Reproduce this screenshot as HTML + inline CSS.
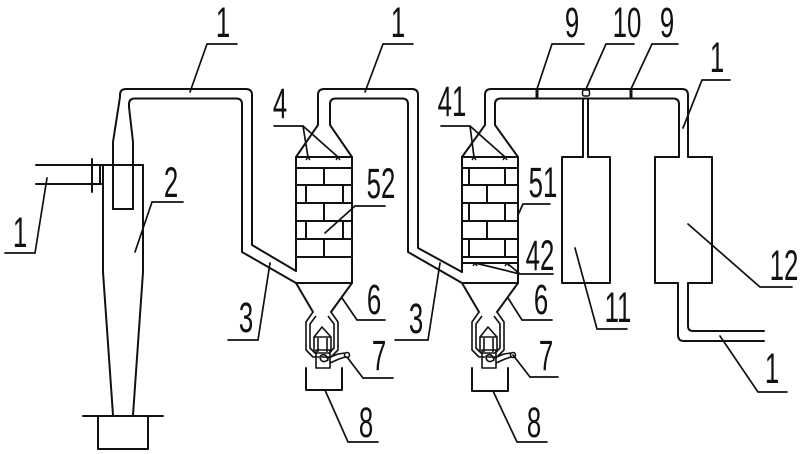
<!DOCTYPE html>
<html><head><meta charset="utf-8"><style>
html,body{margin:0;padding:0;background:#fff;}
svg{display:block;}
text{font-family:"Liberation Sans",sans-serif;font-size:43px;fill:#111;}
</style></head><body>
<svg width="800" height="454" viewBox="0 0 800 454" xmlns="http://www.w3.org/2000/svg">
<rect width="800" height="454" fill="#fff"/>
<g fill="none" stroke="#111" stroke-width="2" stroke-linejoin="round" stroke-linecap="round">
<!-- Cyclone inlet -->
<path d="M36,165 L143,165 M36,184 L103,184 M92,159 L92,192 M100,165 L100,184"/>
<!-- Cyclone body -->
<path d="M103,165 L103,272 L113,415 M143,165 L143,272 L133,415"/>
<path d="M83,416 L163,416 M98,416 L98,449 L148,449 L148,416"/>
<!-- Outlet pipe / vortex finder outer -->
<path d="M113,209 L113,142 L120,97 L120,95 Q120,89 126,89 L246,89 Q252,89 252,95 L252,245 L296,271"/>
<!-- inner -->
<path d="M133,209 L133,142 L129,107 L129,104 Q129,98.5 135,98.5 L236,98.5 Q242,98.5 242,104 L242,252 L296,283"/>
<path d="M113,209 L133,209"/>

<!-- Filter 1 -->
<path d="M296,157 L296,271 M352,157 L352,283 M296,283 L352,283 M296,157 L352,157"/>
<path d="M296,168 L352,168 M296,185 L352,185 M296,203 L352,203 M296,221 L352,221 M296,239 L352,239 M296,257 L352,257"/>
<path d="M324,168 L324,185 M306,185 L306,203 M343,185 L343,203 M324,203 L324,221 M306,221 L306,239 M343,221 L343,239 M324,239 L324,257"/>
<!-- cone + pipe to filter 2 -->
<path d="M296,157 L318,125 L318,95 Q318,89 324,89 L412,89 Q418,89 418,95 L418,248 L462,272"/>
<path d="M352,157 L330,125 L330,104 Q330,98.5 336,98.5 L402,98.5 Q408,98.5 408,104 L408,252 L462,283"/>
<!-- hopper 1 -->
<path d="M296,283 L313,312 M352,283 L331,312"/>

<!-- Filter 2 -->
<path d="M462,157 L462,272 M518,157 L518,283 M462,283 L518,283 M462,157 L518,157"/>
<path d="M462,168 L518,168 M462,185 L518,185 M462,203 L518,203 M462,221 L518,221 M462,239 L518,239 M462,257 L518,257 M462,263 L518,263"/>
<path d="M469,168 L469,185 M505,168 L505,185 M487,185 L487,203 M469,203 L469,221 M505,203 L505,221 M487,221 L487,239 M469,239 L469,257 M505,239 L505,257"/>
<path d="M462,157 L485,125 L485,95 Q485,89 491,89 L682,89 Q688,89 688,95 L688,157"/>
<path d="M518,157 L495,125 L495,104 Q495,98.5 501,98.5 L673,98.5 Q679,98.5 679,104 L679,157"/>
<path d="M462,283 L479,312 M518,283 L497,312"/>

<!-- branch to box 11 -->
<path d="M583,98.5 L583,157 M588,98.5 L588,157"/>
<!-- Box 11 -->
<path d="M583,157 L562,157 L562,283 L610,283 L610,157 L588,157"/>
<!-- Box 12 -->
<path d="M679,157 L655,157 L655,283 L678,283 M688,283 L712,283 L712,157 L688,157"/>
<path d="M678,283 L678,335 Q678,341 684,341 L764,341"/>
<path d="M688,283 L688,326 Q688,331 693,331 L764,331"/>

<!-- Bins -->
<path d="M306,368 L306,390 L342,390 L342,368"/>
<path d="M472,368 L472,391 L508,391 L508,368"/>
</g>

<!-- Valves 9 and 10 -->
<g fill="#111">
<rect x="535.5" y="89" width="3" height="10"/>
<rect x="629.5" y="89" width="3" height="10"/>
</g>
<g fill="none" stroke="#111" stroke-width="1.5">
<rect x="582.5" y="90" width="7" height="6" rx="2"/>
</g>
<!-- ticks for 4 / 41 / 42 -->
<g fill="none" stroke="#111" stroke-width="1.5">
<path d="M306,160 L308,157 L310,160 M336,160 L338,157 L340,160"/>
<path d="M472,160 L474,157 L476,160 M503,160 L505,157 L507,160"/>
<path d="M473,266 L475,263 L477,266 M505,266 L507,263 L509,266"/>
</g>

<!-- Rotary valve 7 (filter 1), copied for filter 2 -->
<g id="v1" fill="none" stroke="#111" stroke-width="1.6" stroke-linejoin="round">
<path d="M313,312 L306,322 L306,350 L313,357 L331,357 L338,350 L338,322 L331,312"/>
<path d="M316,316 L310,324 L310,348 L315,353 L329,353 L334,348 L334,324 L328,316"/>
<path d="M314,337 L322,327 L331,337 Z"/>
<path d="M314,337 L314,352 M331,337 L331,352 M318,338 L318,352 M327,338 L327,352"/>
<rect x="316" y="350" width="14" height="18"/>
<path d="M320,356 Q326,352 328,360 Q322,364 320,358"/>
<path d="M328,358 L338,354 L345,353 M330,363 L339,359 L345,357"/>
<circle cx="347" cy="355" r="2.5"/>
</g>
<g transform="translate(166,0)" fill="none" stroke="#111" stroke-width="1.6" stroke-linejoin="round">
<path d="M313,312 L306,322 L306,350 L313,357 L331,357 L338,350 L338,322 L331,312"/>
<path d="M316,316 L310,324 L310,348 L315,353 L329,353 L334,348 L334,324 L328,316"/>
<path d="M314,337 L322,327 L331,337 Z"/>
<path d="M314,337 L314,352 M331,337 L331,352 M318,338 L318,352 M327,338 L327,352"/>
<rect x="316" y="350" width="14" height="18"/>
<path d="M320,356 Q326,352 328,360 Q322,364 320,358"/>
<path d="M328,358 L338,354 L345,353 M330,363 L339,359 L345,357"/>
<circle cx="347" cy="355" r="2.5"/>
</g>

<!-- Leader lines -->
<g fill="none" stroke="#111" stroke-width="1.7" stroke-linecap="round">
<path d="M237,44 L207,44 L190,92"/>
<path d="M5,253 L35,253 L47,178"/>
<path d="M183,202 L152,202 L135,252"/>
<path d="M413,44 L383,44 L365,92"/>
<path d="M274,126 L303,126 L308,157 M303,126 L338,157"/>
<path d="M385,206 L355,206 L325,233"/>
<path d="M228,340 L258,340 L270,263"/>
<path d="M385,320 L357,320 L342,298"/>
<path d="M393,378 L363,378 L347,357"/>
<path d="M325,390 L348,442 L378,442"/>
<path d="M395,340 L428,340 L440,263"/>
<path d="M441,126 L470,126 L474,157 M470,126 L505,157"/>
<path d="M550,204 L523,204 L518,215"/>
<path d="M553,274 L520,274 L475,263 M520,274 L507,263"/>
<path d="M552,320 L522,320 L508,298"/>
<path d="M558,377 L530,377 L513,355"/>
<path d="M493,391 L517,442 L547,442"/>
<path d="M584,44 L552,44 L537,89"/>
<path d="M634,44 L606,44 L586,89"/>
<path d="M678,44 L652,44 L631,89"/>
<path d="M730,80 L702,80 L683,128"/>
<path d="M627,329 L597,329 L575,248"/>
<path d="M792,287 L760,287 L688,224"/>
<path d="M787,392 L758,392 L720,336"/>
</g>

<!-- Labels -->
<g text-anchor="middle">
<g transform="translate(223,37) scale(0.6,1)"><text>1</text></g>
<g transform="translate(20,247) scale(0.6,1)"><text>1</text></g>
<g transform="translate(171,197) scale(0.6,1)"><text>2</text></g>
<g transform="translate(398,37) scale(0.6,1)"><text>1</text></g>
<g transform="translate(280,118) scale(0.6,1)"><text>4</text></g>
<g transform="translate(381,198) scale(0.6,1)"><text>52</text></g>
<g transform="translate(246,332) scale(0.6,1)"><text>3</text></g>
<g transform="translate(374,314) scale(0.6,1)"><text>6</text></g>
<g transform="translate(379,370) scale(0.6,1)"><text>7</text></g>
<g transform="translate(366,437) scale(0.6,1)"><text>8</text></g>
<g transform="translate(416,333) scale(0.6,1)"><text>3</text></g>
<g transform="translate(452,116) scale(0.6,1)"><text>41</text></g>
<g transform="translate(543,197) scale(0.6,1)"><text>51</text></g>
<g transform="translate(540,270) scale(0.6,1)"><text>42</text></g>
<g transform="translate(541,314) scale(0.6,1)"><text>6</text></g>
<g transform="translate(546,370) scale(0.6,1)"><text>7</text></g>
<g transform="translate(534,437) scale(0.6,1)"><text>8</text></g>
<g transform="translate(572,37) scale(0.6,1)"><text>9</text></g>
<g transform="translate(627,37) scale(0.6,1)"><text>10</text></g>
<g transform="translate(667,37) scale(0.6,1)"><text>9</text></g>
<g transform="translate(717,72) scale(0.6,1)"><text>1</text></g>
<g transform="translate(618,322) scale(0.6,1)"><text>11</text></g>
<g transform="translate(784,280) scale(0.6,1)"><text>12</text></g>
<g transform="translate(772,383) scale(0.6,1)"><text>1</text></g>
</g>
</svg>
</body></html>
